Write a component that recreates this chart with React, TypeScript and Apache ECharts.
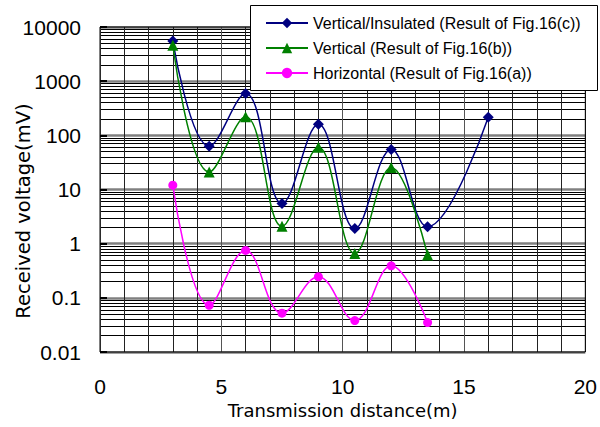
import React, { useEffect, useRef } from "react";
import * as echarts from "echarts";

const distances = [3, 4.5, 6, 7.5, 9, 10.5, 12, 13.5, 16];
const insulated = [5500, 63, 590, 5.5, 160, 1.9, 55, 2.05, 215];
const vertical = [4600, 21, 220, 2.1, 60, 0.66, 25.5, 0.62];
const horizontal = [12, 0.073, 0.75, 0.052, 0.245, 0.038, 0.39, 0.035];
const yTickLabels = ["0.01", "0.1", "1", "10", "100", "1000", "10000"];
const xTickLabels = ["0", "5", "10", "15", "20"];
const seriesNames = [
  "Vertical/Insulated (Result of Fig.16(c))",
  "Vertical (Result of Fig.16(b))",
  "Horizontal (Result of Fig.16(a))",
];

const pairs = (vals: number[]) => vals.map((v, i) => [distances[i], v]);

export default function App() {
  const ref = useRef<HTMLDivElement>(null);
  useEffect(() => {
    document.body.style.margin = "0";
    const chart = echarts.init(ref.current!, null, { renderer: "svg" });
    const sans = "Liberation Sans, Arial, sans-serif";
    chart.setOption({
      animation: false,
      backgroundColor: "#fff",
      grid: {
        left: 100,
        right: 13,
        top: 27,
        bottom: 75,
        show: true,
        borderColor: "#000",
        borderWidth: 1,
        backgroundColor: "transparent",
        z: 3,
      },
      xAxis: {
        type: "value",
        min: 0,
        max: 20,
        interval: 5,
        name: "Transmission distance(m)",
        nameLocation: "middle",
        nameGap: 46,
        nameTextStyle: { fontFamily: "DejaVu Sans", fontSize: 18, color: "#000" },
        axisLine: { show: false },
        axisTick: { show: false },
        axisLabel: {
          margin: 24,
          fontFamily: sans,
          fontSize: 21,
          color: "#000",
          formatter: (v: number) => xTickLabels[Math.round(v / 5)] ?? "",
        },
        splitLine: { show: true, lineStyle: { color: "#555", width: 1 } },
        minorTick: { show: false, splitNumber: 5 },
        minorSplitLine: { show: true, lineStyle: { color: "#222", width: 1 } },
      },
      yAxis: {
        type: "log",
        logBase: 10,
        min: 0.01,
        max: 10000,
        axisLine: { show: false },
        axisTick: { show: true, inside: true, length: 7, lineStyle: { color: "#000", width: 2 } },
        axisLabel: {
          margin: 19,
          fontFamily: sans,
          fontSize: 21,
          color: "#000",
          formatter: (v: number) => yTickLabels[Math.round(Math.log10(v)) + 2] ?? "",
        },
        splitLine: { show: true, lineStyle: { color: "#808080", width: 2.5 } },
        minorTick: { show: false, splitNumber: 9 },
        minorSplitLine: { show: true, lineStyle: { color: "#000", width: 1 } },
      },
      legend: {
        orient: "vertical",
        left: 265,
        top: 15,
        padding: 0,
        itemWidth: 42,
        itemHeight: 13,
        itemGap: 9,
        z: 20,
        textStyle: { fontFamily: sans, fontSize: 16, color: "#000", lineHeight: 16 },
        data: seriesNames,
      },
      graphic: [
        {
          type: "rect",
          z: 10,
          shape: { x: 250.5, y: 5.5, width: 347, height: 85 },
          style: { fill: "#fff", stroke: "#000", lineWidth: 1 },
        },
        {
          type: "text",
          x: 23,
          y: 211,
          rotation: Math.PI / 2,
          style: {
            text: "Received voltage(mV)",
            fontFamily: "DejaVu Sans",
            fontSize: 19.5,
            fill: "#000",
            align: "center",
            verticalAlign: "middle",
          },
        },
      ],
      series: [
        {
          name: seriesNames[0],
          type: "line",
          smooth: 0.4,
          data: pairs(insulated),
          symbol: "diamond",
          symbolSize: 11,
          lineStyle: { color: "#000080", width: 1.5 },
          itemStyle: { color: "#000080" },
          z: 5,
        },
        {
          name: seriesNames[1],
          type: "line",
          smooth: 0.4,
          data: pairs(vertical),
          symbol: "triangle",
          symbolSize: 11,
          lineStyle: { color: "#008000", width: 1.5 },
          itemStyle: { color: "#008000" },
          z: 5,
        },
        {
          name: seriesNames[2],
          type: "line",
          smooth: 0.4,
          data: pairs(horizontal),
          symbol: "circle",
          symbolSize: 9,
          lineStyle: { color: "#ff00ff", width: 1.5 },
          itemStyle: { color: "#ff00ff" },
          z: 5,
        },
      ],
    });
    return () => chart.dispose();
  }, []);
  return (
    <div
      ref={ref}
      style={{ position: "fixed", left: 0, top: 0, width: 600, height: 427 }}
    />
  );
}
